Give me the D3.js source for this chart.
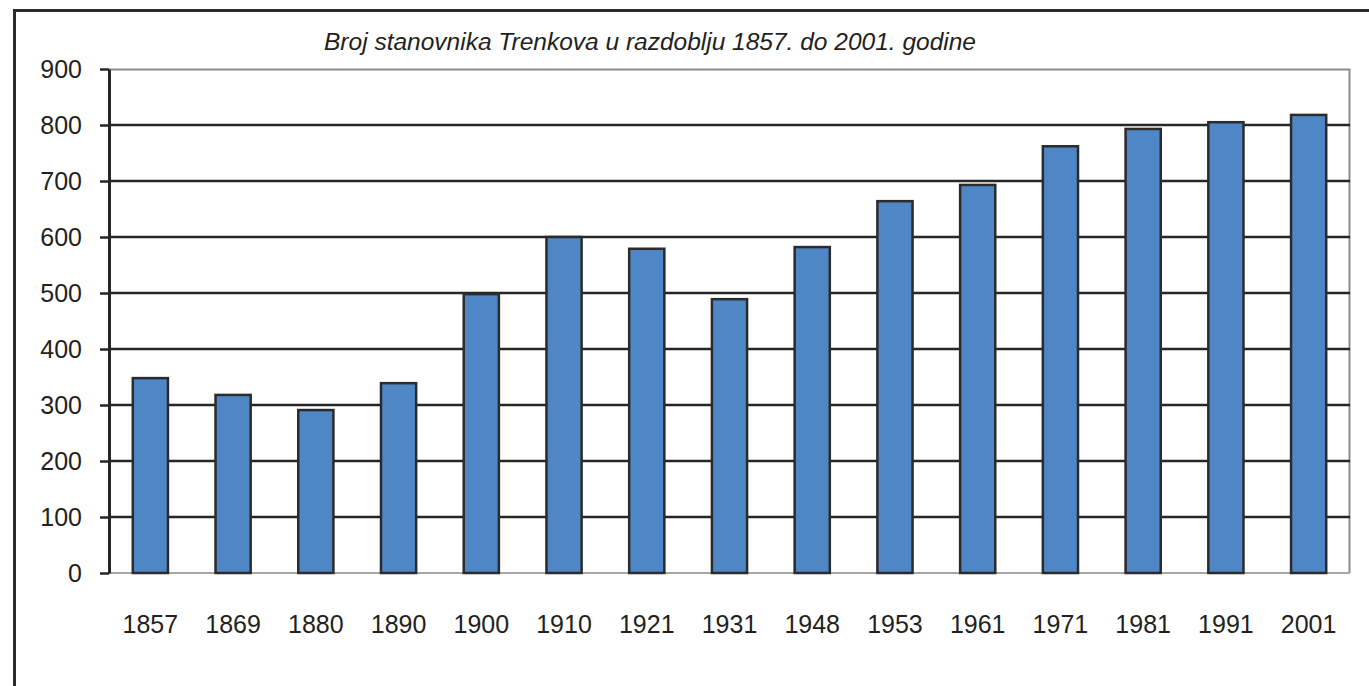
<!DOCTYPE html>
<html>
<head>
<meta charset="utf-8">
<script src="https://cdn.jsdelivr.net/npm/d3@7"></script>
<style>
  body { margin: 0; background: #fff; }
  text { font-family: "Liberation Sans", Arial, sans-serif; fill: #231f20; }
</style>
</head>
<body>
<div id="chart"></div>
<script>
// data
const years = ["1857", "1869", "1880", "1890", "1900", "1910", "1921", "1931", "1948", "1953", "1961", "1971", "1981", "1991", "2001"];
const population = [348, 318, 291, 339, 498, 600, 579, 489, 582, 664, 693, 762, 793, 805, 818];
const yTicks = [0, 100, 200, 300, 400, 500, 600, 700, 800, 900];
const title = "Broj stanovnika Trenkova u razdoblju 1857. do 2001. godine";

const W = 1369, H = 686;
const margin = {top: 69, right: 19, bottom: 113, left: 109};
const width = W - margin.left - margin.right;
const height = H - margin.top - margin.bottom;

const svg = d3.select("#chart")
  .append("svg")
  .attr("width", W)
  .attr("height", H);

// outer frame (left and top only visible)
svg.append("path")
  .attr("d", `M14.5,${H} V10.5 H${W}`)
  .attr("fill", "none")
  .attr("stroke", "#2b2b2b")
  .attr("stroke-width", 3);

const g = svg.append("g")
  .attr("transform", `translate(${margin.left}, ${margin.top})`);

const x = d3.scaleBand()
  .domain(years)
  .range([0, width])
  .paddingInner(0.575)
  .paddingOuter(0.2875);

const y = d3.scaleLinear()
  .domain([0, 900])
  .range([height, 0]);

// title
svg.append("text")
  .attr("x", 650)
  .attr("y", 50)
  .attr("text-anchor", "middle")
  .style("font-size", "24.5px")
  .style("font-style", "italic")
  .text(title);

// plot area border (gray top/right)
g.append("path")
  .attr("d", `M0,0.5 H${width - 0.5} V${height}`)
  .attr("fill", "none")
  .attr("stroke", "#8c8c8c")
  .attr("stroke-width", 2);

// gridlines
g.append("g")
  .selectAll("line")
  .data(yTicks.filter(d => d > 0 && d < 900))
  .join("line")
    .attr("x1", 0)
    .attr("x2", width)
    .attr("y1", d => y(d))
    .attr("y2", d => y(d))
    .attr("stroke", "#262626")
    .attr("stroke-width", 2.5);

// bottom baseline (light gray)
g.append("line")
  .attr("x1", 0).attr("x2", width)
  .attr("y1", height).attr("y2", height)
  .attr("stroke", "#a6a6a6")
  .attr("stroke-width", 2);

// bars
g.append("g")
  .selectAll("rect")
  .data(population)
  .join("rect")
    .attr("x", (d, i) => x(years[i]))
    .attr("y", d => y(d))
    .attr("width", x.bandwidth())
    .attr("height", d => height - y(d))
    .attr("fill", "#4f86c6")
    .attr("stroke", "#2b2b2b")
    .attr("stroke-width", 2.5);

// y axis
const yAxis = g.append("g")
  .call(d3.axisLeft(y).tickValues(yTicks).tickSize(9).tickPadding(18).tickSizeOuter(0));
yAxis.select(".domain").attr("stroke", "#262626").attr("stroke-width", 3);
yAxis.selectAll(".tick line").attr("stroke", "#262626").attr("stroke-width", 2.5);
yAxis.selectAll(".tick text")
  .style("font-size", "25px")
  .attr("fill", "#231f20")
  .attr("font-family", "Liberation Sans, Arial, sans-serif");

// x labels
g.append("g")
  .selectAll("text")
  .data(years)
  .join("text")
    .attr("x", d => x(d) + x.bandwidth() / 2)
    .attr("y", height + 60)
    .attr("text-anchor", "middle")
    .style("font-size", "25px")
    .text(d => d);
</script>
</body>
</html>
